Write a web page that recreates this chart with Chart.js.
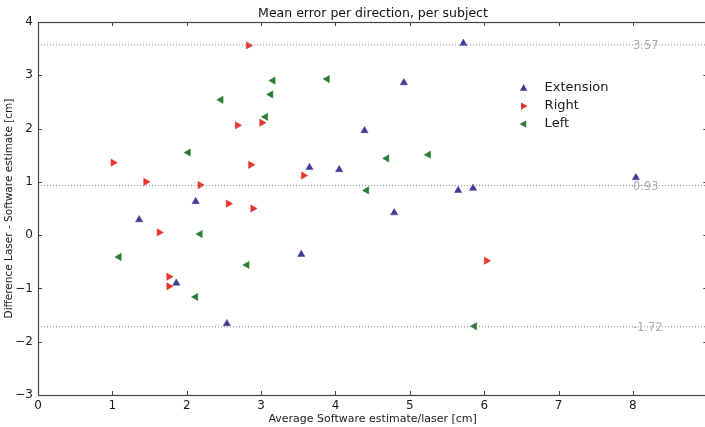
<!DOCTYPE html>
<html>
<head>
<meta charset="utf-8">
<script src="https://cdn.jsdelivr.net/npm/chart.js@4.4.1/dist/chart.umd.min.js"></script>
<style>
  html, body { margin: 0; padding: 0; background: #fff; overflow: hidden; }
  #wrap { width: 705px; height: 427px; position: relative; overflow: hidden; }
</style>
</head>
<body>
<div id="wrap"><canvas id="myChart" width="712" height="427"></canvas></div>
<script>
// series names and point data (x = average estimate, y = difference)
const seriesNames = ["Extension", "Right", "Left"];
const seriesColors = ["#3c3c96", "#e8322c", "#2a7d34"];
const seriesRotation = [0, 90, -90];

const extensionX = [1.36, 2.12, 1.86, 2.54, 3.54, 3.65, 4.05, 4.39, 4.92, 5.72, 5.65, 5.85, 4.79, 8.04];
const extensionY = [0.29, 0.63, -0.90, -1.66, -0.36, 1.27, 1.23, 1.96, 2.86, 3.60, 0.84, 0.88, 0.42, 1.08];
const rightX = [2.83, 2.68, 3.01, 1.01, 1.45, 2.18, 2.86, 3.57, 2.56, 2.89, 1.63, 1.76, 1.76, 6.03];
const rightY = [3.56, 2.06, 2.11, 1.36, 1.00, 0.94, 1.32, 1.12, 0.59, 0.50, 0.05, -0.78, -0.96, -0.48];
const leftX = [2.46, 3.16, 3.13, 3.06, 2.02, 3.89, 4.69, 5.25, 4.42, 1.09, 2.18, 2.81, 2.12, 5.87];
const leftY = [2.54, 2.90, 2.64, 2.22, 1.55, 2.93, 1.44, 1.51, 0.84, -0.41, 0.02, -0.56, -1.16, -1.71];

// mean and limits of agreement
const limitValues = [3.57, 0.93, -1.72];
const limitLabelX = 8;

const xRange = [0, 9];
const yRange = [-3, 4];

function toPoints(xs, ys) {
    return xs.map((x, i) => ({ x: x, y: ys[i] }));
}

const seriesData = [
    toPoints(extensionX, extensionY),
    toPoints(rightX, rightY),
    toPoints(leftX, leftY)
];

const datasets = [];
limitValues.forEach(v => {
    datasets.push({
        type: 'line',
        label: 'limit',
        data: [{ x: xRange[0], y: v }, { x: xRange[1], y: v }],
        borderColor: '#8a8a8a',
        borderWidth: 1,
        borderDash: [1, 2],
        pointRadius: 0,
        fill: false
    });
});
seriesNames.forEach((name, i) => {
    datasets.push({
        type: 'scatter',
        label: name,
        data: seriesData[i],
        pointStyle: 'triangle',
        rotation: seriesRotation[i],
        pointRadius: 4.2,
        backgroundColor: seriesColors[i],
        borderColor: seriesColors[i],
        borderWidth: 0.5
    });
});

const FONT = "'DejaVu Sans', sans-serif";
const AXIS = '#444444';

// title, spines, inward ticks, limit labels and legend
const decorPlugin = {
    id: 'decor',
    afterDraw(chart) {
        const ctx = chart.ctx;
        const a = chart.chartArea;
        const xs = chart.scales.x;
        const ys = chart.scales.y;
        ctx.save();

        // spines
        ctx.strokeStyle = AXIS;
        ctx.lineWidth = 1.2;
        ctx.strokeRect(a.left + 0.5, a.top + 0.5, a.right - a.left - 1, a.bottom - a.top);

        // inward ticks
        ctx.lineWidth = 1;
        ctx.beginPath();
        for (let v = xRange[0] + 1; v < xRange[1]; v++) {
            const px = Math.round(xs.getPixelForValue(v)) + 0.5;
            ctx.moveTo(px, a.bottom); ctx.lineTo(px, a.bottom - 4);
            ctx.moveTo(px, a.top); ctx.lineTo(px, a.top + 4);
        }
        for (let v = yRange[0] + 1; v < yRange[1]; v++) {
            const py = Math.round(ys.getPixelForValue(v)) + 0.5;
            ctx.moveTo(a.left, py); ctx.lineTo(a.left + 4, py);
            ctx.moveTo(a.right, py); ctx.lineTo(a.right - 4, py);
        }
        ctx.stroke();

        // limit labels
        ctx.fillStyle = '#b3aba4';
        ctx.font = "11.5px " + FONT;
        ctx.textAlign = 'left';
        ctx.textBaseline = 'middle';
        limitValues.forEach(v => {
            ctx.fillText(v.toFixed(2), xs.getPixelForValue(limitLabelX), ys.getPixelForValue(v) + 1.5);
        });

        // title
        ctx.fillStyle = '#111';
        ctx.font = "12.5px " + FONT;
        ctx.textAlign = 'center';
        ctx.textBaseline = 'middle';
        ctx.fillText("Mean error per direction, per subject", 373, 13.5);

        // legend
        const lx = xs.getPixelForValue(6.53);
        let ly = ys.getPixelForValue(2.76);
        seriesNames.forEach((name, i) => {
            ctx.save();
            ctx.translate(lx, ly);
            ctx.rotate(seriesRotation[i] * Math.PI / 180);
            ctx.fillStyle = seriesColors[i];
            ctx.beginPath();
            ctx.moveTo(0, -4); ctx.lineTo(3.6, 2.6); ctx.lineTo(-3.6, 2.6);
            ctx.closePath();
            ctx.fill();
            ctx.restore();
            ctx.fillStyle = '#1a1a1a';
            ctx.font = "13px " + FONT;
            ctx.textAlign = 'left';
            ctx.fillText(name, lx + 21, ly);
            ly += 18;
        });
        ctx.restore();
    }
};

new Chart(document.getElementById('myChart'), {
    data: { datasets: datasets },
    options: {
        responsive: false,
        maintainAspectRatio: false,
        animation: false,
        layout: { padding: { top: 22, right: 0, left: 0, bottom: 0 } },
        plugins: {
            legend: { display: false },
            title: { display: false },
            tooltip: { enabled: false }
        },
        scales: {
            x: {
                type: 'linear',
                min: xRange[0],
                max: xRange[1],
                grid: { display: false, drawTicks: false },
                border: { display: false },
                ticks: {
                    stepSize: 1,
                    padding: 4,
                    color: '#1a1a1a',
                    font: { family: FONT, size: 12 },
                    maxRotation: 0,
                    callback: v => (v === xRange[1] ? '' : String(v))
                },
                title: {
                    display: true,
                    text: 'Average Software estimate/laser [cm]',
                    color: '#1a1a1a',
                    font: { family: FONT, size: 11 },
                    padding: { top: 0, bottom: 1 }
                },
                afterFit: s => { s.height = 32; s.paddingRight = 0; s.paddingLeft = 0; }
            },
            y: {
                type: 'linear',
                min: yRange[0],
                max: yRange[1],
                grid: { display: false, drawTicks: false },
                border: { display: false },
                ticks: {
                    stepSize: 1,
                    padding: 5,
                    color: '#1a1a1a',
                    font: { family: FONT, size: 12 },
                    callback: v => String(v).replace('-', '\u2212')
                },
                title: {
                    display: true,
                    text: 'Difference Laser - Software estimate [cm]',
                    color: '#1a1a1a',
                    font: { family: FONT, size: 10.5 },
                    padding: { top: 3, bottom: 0 }
                },
                afterFit: s => { s.width = 38; s.paddingTop = 0; s.paddingBottom = 0; }
            }
        }
    },
    plugins: [decorPlugin]
});
</script>
</body>
</html>
